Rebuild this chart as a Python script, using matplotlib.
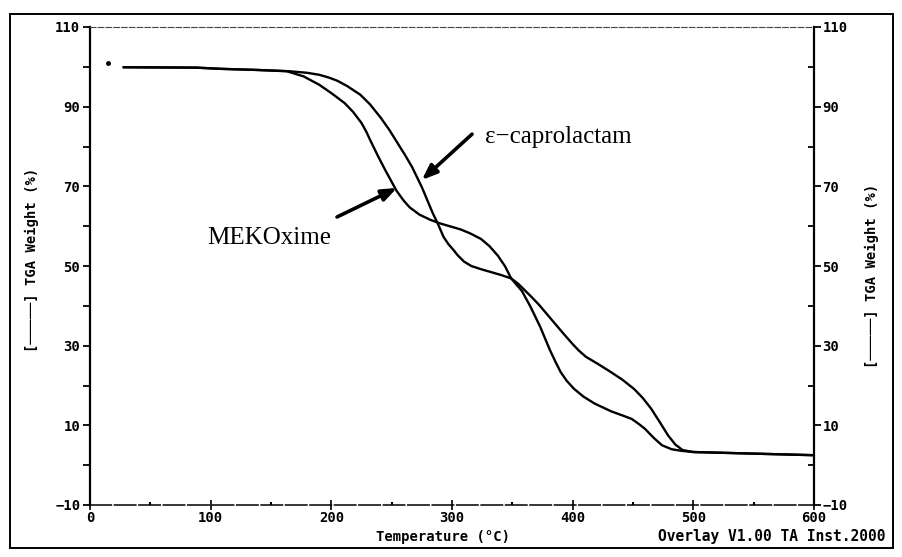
import matplotlib.pyplot as plt
from matplotlib.patches import Rectangle
from matplotlib.ticker import MultipleLocator

# TGA weight loss readings, temperature in deg C and weight in %
temp_cap = [28, 88, 108, 140, 165, 180, 190, 198, 205, 213, 224, 232, 241, 248, 255, 261,
            267, 275, 284, 288, 293, 297, 301, 305, 310, 316, 324, 332, 340, 349, 355,
            360, 366, 372, 379, 386, 393, 400, 405, 411, 421, 431, 441, 451, 458, 465,
            472, 479, 485, 491, 500, 550, 600]
weight_cap = [99.9, 99.8, 99.5, 99.2, 98.9, 98.5, 98.0, 97.3, 96.5, 95.2, 93.0, 90.6, 87.2,
              84.2, 80.8, 77.9, 74.8, 69.8, 63.3, 60.8, 57.3, 55.5, 54.1, 52.6, 51.1,
              50.0, 49.2, 48.5, 47.8, 46.9, 45.5, 44.0, 42.2, 40.3, 37.8, 35.3, 32.8,
              30.4, 28.8, 27.2, 25.4, 23.5, 21.5, 19.1, 16.9, 14.2, 10.9, 7.5, 5.2,
              3.8, 3.3, 2.9, 2.5]

temp_mek = [28, 88, 108, 140, 163, 177, 190, 200, 211, 218, 225, 229, 233, 239, 245,
            254, 260, 265, 273, 282, 290, 299, 307, 315, 324, 331, 338, 344, 349, 358,
            365, 373, 381, 386, 390, 395, 401, 409, 418, 432, 442, 449, 455, 460, 467,
            474, 482, 490, 500, 550, 600]
weight_mek = [99.9, 99.8, 99.5, 99.2, 98.9, 97.6, 95.5, 93.4, 90.9, 88.7, 85.9, 83.7,
              81.1, 77.4, 73.9, 68.9, 66.4, 64.7, 62.9, 61.6, 60.7, 59.9, 59.2, 58.2,
              56.8, 55.0, 52.6, 49.9, 46.9, 43.7, 39.8, 34.8, 29.0, 25.8, 23.4, 21.2,
              19.2, 17.2, 15.5, 13.5, 12.4, 11.6, 10.3, 9.1, 6.9, 5.0, 4.0, 3.6, 3.3,
              2.9, 2.5]

start_temp = [15]
start_weight = [101]

y_ticks = [-10, 10, 30, 50, 70, 90, 110]
x_ticks = [0, 100, 200, 300, 400, 500, 600]

mono = dict(family='DejaVu Sans Mono', weight='bold')

W, H = 902, 557
fig = plt.figure(figsize=(W / 100, H / 100), dpi=100)
ax = fig.add_axes([90 / W, 1 - 505 / H, (814 - 90) / W, (505 - 27) / H])

ax.plot(temp_mek, weight_mek, color='black', lw=1.7, solid_joinstyle='round')
ax.plot(temp_cap, weight_cap, color='black', lw=1.7, solid_joinstyle='round')
ax.plot(start_temp, start_weight, 'o', color='black', ms=2.5)

ax.set_xlim(0, 600)
ax.set_ylim(-10, 110)

# spines like the instrument printout
ax.spines['left'].set_linewidth(1.6)
ax.spines['bottom'].set_linewidth(1.1)
ax.spines['bottom'].set_linestyle((0, (14, 2)))
ax.spines['top'].set_linewidth(0.8)
ax.spines['top'].set_linestyle((0, (5, 2)))
ax.spines['top'].set_color('#444444')
ax.spines['right'].set_visible(False)

ax.set_xticks(x_ticks)
ax.xaxis.set_minor_locator(MultipleLocator(50))
ax.set_yticks(y_ticks)
ax.yaxis.set_minor_locator(MultipleLocator(10))
ax.tick_params(axis='x', which='major', direction='inout', length=7, width=1.2, pad=1,
               labelsize=10)
ax.tick_params(axis='x', which='minor', direction='in', length=2, width=1.5)
ax.tick_params(axis='y', which='both', direction='out', length=5, width=1.3, pad=2,
               labelsize=10)
for lab in ax.get_xticklabels() + ax.get_yticklabels():
    lab.set_fontfamily(mono['family'])
    lab.set_fontweight('bold')

# right hand axis repeats the weight scale
ax2 = ax.twinx()
ax2.set_ylim(-10, 110)
for s in ['left', 'top', 'bottom']:
    ax2.spines[s].set_visible(False)
ax2.spines['right'].set_linewidth(1.6)
ax2.set_yticks(y_ticks)
ax2.yaxis.set_minor_locator(MultipleLocator(10))
ax2.tick_params(axis='y', which='major', direction='out', length=5, width=1.3, pad=1,
                labelsize=10)
ax2.tick_params(axis='y', which='minor', direction='in', length=4, width=1.3)
for lab in ax2.get_yticklabels():
    lab.set_fontfamily(mono['family'])
    lab.set_fontweight('bold')

ylab = '[' + '\u2500' * 5 + '] TGA Weight (%)'
fig.text(32 / W, 1 - 260 / H, ylab, rotation=90, ha='center', va='center', fontsize=10, **mono)
fig.text(872 / W, 1 - 276 / H, ylab, rotation=90, ha='center', va='center', fontsize=10, **mono)
fig.text(443 / W, 1 - 537 / H, 'Temperature (\u00b0C)', ha='center', va='center',
         fontsize=10, **mono)
fig.text(885 / W, 1 - 537 / H, 'Overlay V1.00 TA Inst.2000', ha='right', va='center',
         fontsize=10.5, **mono)

# curve labels with arrows
serif = 'Liberation Serif'
ax.text(327, 82.4, '\u03b5\u2212caprolactam', fontsize=18, family=serif, va='center')
ax.annotate('', xy=(275, 71.6), xytext=(316.6, 83.1),
            arrowprops=dict(arrowstyle='-|>,head_length=0.9,head_width=0.35',
                            color='black', lw=2.6, shrinkA=0, shrinkB=0))
ax.text(97, 57, 'MEKOxime', fontsize=18, family=serif, va='center')
ax.annotate('', xy=(254.4, 69.6), xytext=(204.7, 62.3),
            arrowprops=dict(arrowstyle='-|>,head_length=0.9,head_width=0.35',
                            color='black', lw=2.6, shrinkA=0, shrinkB=0))

# outer border of the printout
fig.patches.append(Rectangle((10 / W, 1 - 548 / H), (893 - 10) / W, (548 - 14) / H,
                             transform=fig.transFigure, fill=False, lw=1.4,
                             edgecolor='black'))

fig.savefig('out.png', dpi=100)
